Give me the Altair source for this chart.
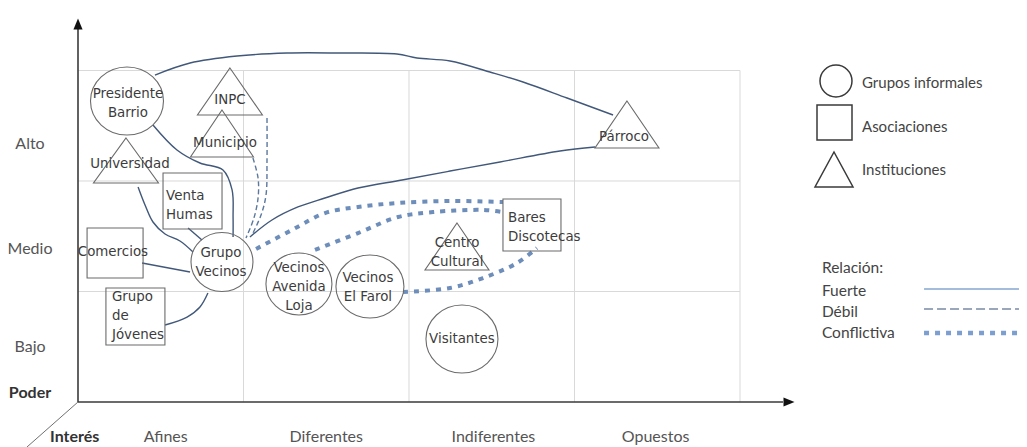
import altair as alt
import pandas as pd

# ---------------- categories / axis labels ----------------
interest_levels = ["Afines", "Diferentes", "Indiferentes", "Opuestos"]
interest_label_u = [0.53, 1.50, 2.51, 3.49]
power_levels = ["Bajo", "Medio", "Alto"]
power_label_v = [0.498, 1.384, 2.335]

# ---------------- actors (nodes) ----------------
node_name = ["Presidente Barrio", "INPC", "Municipio", "Universidad", "Venta Humas",
             "Comercios", "Grupo Vecinos", "Grupo de Jóvenes", "Vecinos Avenida Loja",
             "Vecinos El Farol", "Centro Cultural", "Bares Discotecas", "Visitantes", "Párroco"]
node_type = ["Grupos informales", "Instituciones", "Instituciones", "Instituciones", "Asociaciones",
             "Asociaciones", "Grupos informales", "Asociaciones", "Grupos informales",
             "Grupos informales", "Instituciones", "Asociaciones", "Grupos informales", "Instituciones"]
node_interest = [0.296, 0.918, 0.870, 0.290, 0.692, 0.224, 0.870, 0.347, 1.335, 1.764, 2.290, 2.743, 2.320, 3.317]
node_power = [2.724, 2.810, 2.430, 2.186, 1.819, 1.348, 1.267, 0.774, 1.068, 1.045, 1.407, 1.602, 0.570, 2.511]
node_w = [73, 65, 63, 65, 59, 56, 62, 59, 66, 68, 64, 58, 72, 64]
node_h = [68, 47, 47, 45, 56, 50, 59, 57, 62, 63, 47, 52, 68, 47]

# labels drawn inside the nodes (position of the first line)
label_text = ["Presidente\nBarrio", "INPC", "Municipio", "Universidad", "Venta\nHumas",
              "Comercios", "Grupo\nVecinos", "Grupo\nde\nJóvenes", "Vecinos\nAvenida\nLoja",
              "Vecinos\nEl Farol", "Centro\nCultural", "Bares\nDiscotecas", "Visitantes", "Párroco"]
label_u = [0.302, 0.918, 0.888, 0.314, 0.532, 0.211, 0.864, 0.205, 1.335, 1.752, 2.290, 2.598, 2.320, 3.299]
label_v = [2.787, 2.733, 2.344, 2.154, 1.864, 1.357, 1.348, 0.950, 1.213, 1.122, 1.439, 1.665, 0.570, 2.398]
label_align = ["center", "center", "center", "center", "left", "center", "center", "left",
               "center", "center", "center", "left", "center", "center"]

# ---------------- relations (edges) ----------------
edge_from = ["Presidente Barrio", "Grupo Vecinos", "Presidente Barrio", "Universidad", "Venta Humas",
             "Comercios", "Grupo de Jóvenes", "INPC", "Municipio",
             "Grupo Vecinos", "Vecinos Avenida Loja", "Vecinos El Farol"]
edge_to = ["Párroco", "Párroco", "Grupo Vecinos", "Grupo Vecinos", "Grupo Vecinos",
           "Grupo Vecinos", "Grupo Vecinos", "Grupo Vecinos", "Grupo Vecinos",
           "Bares Discotecas", "Bares Discotecas", "Bares Discotecas"]
edge_kind = ["Fuerte", "Fuerte", "Fuerte", "Fuerte", "Fuerte", "Fuerte", "Fuerte",
             "Débil", "Débil", "Conflictiva", "Conflictiva", "Conflictiva"]
edge_u = [
    [0.465, 0.677, 0.961, 1.263, 1.583, 1.927, 2.048, 2.248, 2.489, 2.689, 2.955, 3.233],
    [1.039, 1.172, 1.329, 1.492, 1.692, 1.958, 2.248, 2.550, 2.912, 3.124],
    [0.453, 0.598, 0.737, 0.876, 0.931, 0.937, 0.937],
    [0.363, 0.405, 0.453, 0.526, 0.616, 0.695],
    [0.665, 0.749],
    [0.387, 0.677],
    [0.526, 0.659, 0.737, 0.785],
    [1.142, 1.142, 1.136, 1.106, 1.051],
    [1.057, 1.088, 1.088, 1.063, 1.015],
    [1.076, 1.293, 1.492, 1.692, 1.934, 2.248, 2.568],
    [1.432, 1.692, 1.934, 2.145, 2.447, 2.568],
    [1.964, 2.248, 2.447, 2.653, 2.773],
]
edge_v = [
    [2.959, 3.068, 3.131, 3.158, 3.158, 3.149, 3.113, 3.086, 2.986, 2.896, 2.751, 2.597],
    [1.493, 1.647, 1.765, 1.846, 1.937, 2.009, 2.090, 2.172, 2.271, 2.308],
    [2.507, 2.281, 2.163, 2.100, 1.919, 1.674, 1.493],
    [1.946, 1.783, 1.629, 1.520, 1.457, 1.357],
    [1.575, 1.466],
    [1.258, 1.176],
    [0.697, 0.769, 0.860, 0.986],
    [2.570, 2.190, 1.873, 1.692, 1.511],
    [2.208, 2.027, 1.846, 1.665, 1.484],
    [1.385, 1.557, 1.710, 1.765, 1.801, 1.819, 1.810],
    [1.376, 1.529, 1.674, 1.719, 1.738, 1.719],
    [0.995, 1.032, 1.122, 1.258, 1.394],
]

# ---------------- legend ----------------
legend_shapes = ["Grupos informales", "Asociaciones", "Instituciones"]
legend_shape_u = [4.580, 4.571, 4.568]
legend_shape_v = [2.905, 2.529, 2.104]
legend_shape_w = [32, 35, 38]
legend_shape_h = [32, 35, 35]
legend_text_u = 4.737
legend_text_v = [2.887, 2.489, 2.100]

relation_kinds = ["Fuerte", "Débil", "Conflictiva"]
relation_text_v = [1.005, 0.814, 0.624]
relation_line_v = [1.023, 0.842, 0.624]

# ---------------- scales ----------------
U_MIN, U_MAX = -0.42296, 5.6858
V_MIN, V_MAX = -0.40724, 3.56561
xs = alt.Scale(domain=[U_MIN, U_MAX], nice=False, zero=False)
ys = alt.Scale(domain=[V_MIN, V_MAX], nice=False, zero=False)
X = lambda f="u": alt.X(f"{f}:Q", scale=xs, axis=None)
Y = lambda f="v": alt.Y(f"{f}:Q", scale=ys, axis=None)


def shape_path(kind, w, h):
    k = h / w
    if kind == "Grupos informales":
        if abs(k - 1) < 0.02:
            return "circle"
        return f"M-1,0A1,{k:.3f} 0 1,1 1,0A1,{k:.3f} 0 1,1 -1,0Z"
    if kind == "Asociaciones":
        return f"M-1,{-k:.3f}L1,{-k:.3f}L1,{k:.3f}L-1,{k:.3f}Z"
    return f"M0,{-k:.3f}L1,{k:.3f}L-1,{k:.3f}Z"


nodes = pd.DataFrame({
    "name": node_name, "u": node_interest, "v": node_power,
    "shape": [shape_path(t, w, h) for t, w, h in zip(node_type, node_w, node_h)],
    "size": [w * w for w in node_w],
})
labels = pd.DataFrame({"text": label_text, "u": label_u, "v": label_v, "al": label_align})

rows = []
for i, (us, vs) in enumerate(zip(edge_u, edge_v)):
    for j, (a, b) in enumerate(zip(us, vs)):
        rows.append({"edge": f"{edge_from[i]} → {edge_to[i]}", "kind": edge_kind[i], "seq": j, "u": a, "v": b})
edges = pd.DataFrame(rows)

grid_v = pd.DataFrame({"u": list(range(1, len(interest_levels) + 1)), "v": 0, "v2": len(power_levels)})
grid_h = pd.DataFrame({"v": list(range(1, len(power_levels) + 1)), "u": 0, "u2": len(interest_levels)})

GRID = "#d9d9d9"
AX = "#3a3a3a"

grid_layer = (
    alt.Chart(grid_v).mark_rule(color=GRID, strokeWidth=1).encode(x=X(), y=Y(), y2="v2:Q")
    + alt.Chart(grid_h).mark_rule(color=GRID, strokeWidth=1).encode(x=X(), x2="u2:Q", y=Y())
)

axes_df = pd.DataFrame({"u": [0, 0], "v": [0, 0], "u2": [0, 4.26], "v2": [3.38, 0]})
axes_layer = alt.Chart(axes_df).mark_rule(color=AX, strokeWidth=1.6).encode(x=X(), y=Y(), x2="u2:Q", y2="v2:Q")
diag_df = pd.DataFrame({"u": [0], "v": [0], "u2": [-0.308], "v2": [-0.407]})
diag_layer = alt.Chart(diag_df).mark_rule(color="#707070", strokeWidth=1).encode(x=X(), y=Y(), x2="u2:Q", y2="v2:Q")
arrows_df = pd.DataFrame({"u": [4.296, 0.0], "v": [0.0, 3.421],
                          "shape": ["M-1,-0.83L1,0L-1,0.83Z", "M-0.83,1L0,-1L0.83,1Z"]})
arrows_layer = alt.Chart(arrows_df).mark_point(filled=True, size=121, color="#111111", opacity=1).encode(
    x=X(), y=Y(), shape=alt.Shape("shape:N", scale=None))

styles = {
    "Fuerte": dict(stroke="#41587a", strokeWidth=1.4),
    "Débil": dict(stroke="#5b789e", strokeWidth=1.4, strokeDash=[5, 3]),
    "Conflictiva": dict(stroke="#6d8dba", strokeWidth=4, strokeDash=[5, 6]),
}
edge_layers = []
for kind in relation_kinds:
    edge_layers.append(
        alt.Chart(edges[edges["kind"] == kind]).mark_line(interpolate="catmull-rom", **styles[kind]).encode(
            x=X(), y=Y(), detail="edge:N", order="seq:Q")
    )

node_layer = alt.Chart(nodes).mark_point(filled=False, stroke="#6b6b6b", strokeWidth=1.1, opacity=1).encode(
    x=X(), y=Y(), shape=alt.Shape("shape:N", scale=None), size=alt.Size("size:Q", scale=None))

label_layers = []
for al in ["center", "left"]:
    label_layers.append(
        alt.Chart(labels[labels["al"] == al]).mark_text(
            align=al, baseline="middle", font="DejaVu Sans", fontSize=13.4, lineHeight=19,
            lineBreak="\n", color="#3c3c3c").encode(x=X(), y=Y(), text="text:N")
    )

# legend of shapes
leg_nodes = pd.DataFrame({
    "u": legend_shape_u, "v": legend_shape_v,
    "shape": [shape_path(t, w, h) for t, w, h in zip(legend_shapes, legend_shape_w, legend_shape_h)],
    "size": [w * w for w in legend_shape_w],
})
leg_node_layer = alt.Chart(leg_nodes).mark_point(filled=False, stroke="#3a3a3a", strokeWidth=1.5, opacity=1).encode(
    x=X(), y=Y(), shape=alt.Shape("shape:N", scale=None), size=alt.Size("size:Q", scale=None))
leg_text = pd.DataFrame({"u": legend_text_u, "v": legend_text_v, "text": legend_shapes})
leg_text_layer = alt.Chart(leg_text).mark_text(align="left", baseline="middle", font="Lato", fontSize=15,
                                               color="#444444").encode(x=X(), y=Y(), text="text:N")

rel_text = pd.DataFrame({"u": 4.495, "v": [1.213] + relation_text_v, "text": ["Relación:"] + relation_kinds})
rel_text_layer = alt.Chart(rel_text).mark_text(align="left", baseline="middle", font="Lato", fontSize=15.5,
                                               color="#444444").encode(x=X(), y=Y(), text="text:N")
leg_line_styles = {
    "Fuerte": dict(color="#86a6cf", strokeWidth=1.6),
    "Débil": dict(color="#9aa6ba", strokeWidth=2, strokeDash=[9, 4]),
    "Conflictiva": dict(color="#7d9fcf", strokeWidth=4.5, strokeDash=[5, 6]),
}
leg_line_layers = []
for kind, vv in zip(relation_kinds, relation_line_v):
    df = pd.DataFrame({"u": [5.112], "u2": [U_MAX], "v": [vv]})
    leg_line_layers.append(alt.Chart(df).mark_rule(**leg_line_styles[kind]).encode(x=X(), x2="u2:Q", y=Y()))

# axis texts
XLAB_V = -0.318
xlab = pd.DataFrame({"u": interest_label_u, "v": XLAB_V, "text": interest_levels})
xlab_layer = alt.Chart(xlab).mark_text(align="center", baseline="middle", font="Lato", fontSize=16,
                                       color="#555555").encode(x=X(), y=Y(), text="text:N")
ylab = pd.DataFrame({"u": -0.29, "v": power_label_v, "text": power_levels})
ylab_layer = alt.Chart(ylab).mark_text(align="center", baseline="middle", font="Lato", fontSize=16,
                                       color="#555555").encode(x=X(), y=Y(), text="text:N")
titles = pd.DataFrame({"u": [-0.29, -0.02], "v": [0.081, XLAB_V], "text": ["Poder", "Interés"]})
titles_layer = alt.Chart(titles).mark_text(align="center", baseline="middle", font="Lato", fontSize=16,
                                           fontWeight="bold", color="#333333").encode(x=X(), y=Y(), text="text:N")

chart = alt.layer(
    grid_layer, axes_layer, diag_layer, arrows_layer, *edge_layers, node_layer, *label_layers,
    leg_node_layer, leg_text_layer, rel_text_layer, *leg_line_layers, xlab_layer, ylab_layer, titles_layer,
).properties(
    width=1011, height=439, padding=0, autosize=alt.AutoSizeParams(type="none"), background="white"
).configure_view(stroke=None)

chart.save("out.html", embed_options={"renderer": "svg", "actions": False})
